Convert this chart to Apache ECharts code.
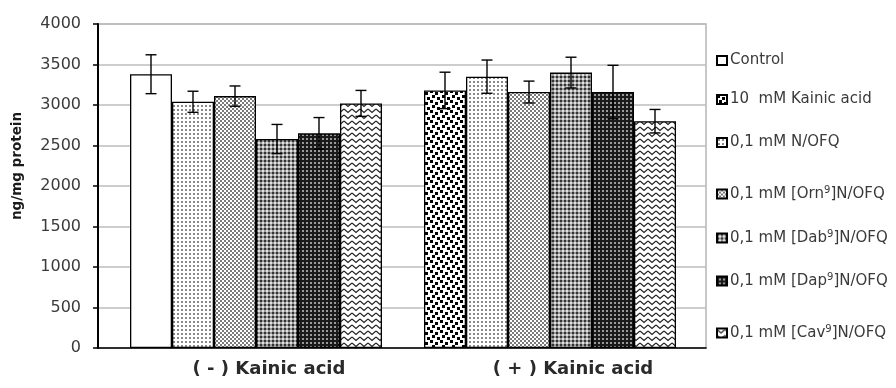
<!DOCTYPE html>
<html>
<head>
<meta charset="utf-8">
<script src="https://cdn.jsdelivr.net/npm/echarts@6/dist/echarts.min.js"></script>
<style>
  html, body { margin: 0; padding: 0; background: #fff; }
  #chart { width: 896px; height: 388px; }
</style>
</head>
<body>
<div id="chart"></div>
<script>
// ---- data ----
const categories = ['( - ) Kainic acid', '( + ) Kainic acid'];
const yTicks = { min: 0, max: 4000, step: 500 };

const seriesNames = [
  'Control',
  '10  mM Kainic acid',
  '0,1 mM N/OFQ',
  '0,1 mM [Orn9]N/OFQ',
  '0,1 mM [Dab9]N/OFQ',
  '0,1 mM [Dap9]N/OFQ',
  '0,1 mM [Cav9]N/OFQ'
];
const legendLabels = [
  'Control',
  '10  mM Kainic acid',
  '0,1 mM N/OFQ',
  '0,1 mM [Orn{sup|9}]N/OFQ',
  '0,1 mM [Dab{sup|9}]N/OFQ',
  '0,1 mM [Dap{sup|9}]N/OFQ',
  '0,1 mM [Cav{sup|9}]N/OFQ'
];

const controlVals = [3380, null];
const kainicVals  = [null, 3180];
const nofqVals    = [3040, 3350];
const ornVals     = [3110, 3160];
const dabVals     = [2580, 3400];
const dapVals     = [2650, 3160];
const cavVals     = [3020, 2800];

const controlErr = [240, null];
const kainicErr  = [null, 225];
const nofqErr    = [130, 205];
const ornErr     = [125, 135];
const dabErr     = [180, 190];
const dapErr     = [195, 330];
const cavErr     = [160, 145];

// ---- layout / style constants ----
const BAR_W = 42;
const SLOTS = 6;
const LEGEND_CENTERS = [62, 101, 144, 194, 238, 281, 333];

function makePattern(w, h, draw) {
  const c = document.createElement('canvas');
  c.width = w; c.height = h;
  const ctx = c.getContext('2d');
  ctx.fillStyle = '#fff';
  ctx.fillRect(0, 0, w, h);
  draw(ctx);
  return { image: c, repeat: 'repeat' };
}

const fills = [
  '#ffffff',
  makePattern(10, 10, ctx => {
    ctx.fillStyle = '#000';
    [[0, 0], [5, 2], [2, 5], [7, 7]].forEach(p => ctx.fillRect(p[0], p[1], 3, 3));
  }),
  makePattern(4, 4, ctx => {
    ctx.fillStyle = '#8a8a8a';
    ctx.fillRect(1, 1, 2, 2);
  }),
  makePattern(4, 4, ctx => {
    ctx.fillStyle = '#7a7a7a';
    ctx.fillRect(0, 0, 2, 2);
    ctx.fillRect(2, 2, 2, 2);
  }),
  makePattern(4, 4, ctx => {
    ctx.fillStyle = '#9a9a9a'; ctx.fillRect(0, 0, 4, 4);
    ctx.fillStyle = '#333'; ctx.fillRect(0, 0, 2, 2);
    ctx.fillStyle = '#e0e0e0'; ctx.fillRect(2, 2, 2, 2);
  }),
  makePattern(4, 4, ctx => {
    ctx.fillStyle = '#1a1a1a'; ctx.fillRect(0, 0, 4, 4);
    ctx.fillStyle = '#9a9a9a'; ctx.fillRect(2, 2, 2, 2);
  }),
  makePattern(8, 6, ctx => {
    ctx.strokeStyle = '#222';
    ctx.lineWidth = 1.2;
    ctx.beginPath();
    ctx.moveTo(0, 1); ctx.lineTo(4, 4.5); ctx.lineTo(8, 1);
    ctx.stroke();
  })
];

const valueSets = [controlVals, kainicVals, nofqVals, ornVals, dabVals, dapVals, cavVals];
const errSets   = [controlErr, kainicErr, nofqErr, ornErr, dabErr, dapErr, cavErr];
const slotOf    = [0, 0, 1, 2, 3, 4, 5];

const barSeries = seriesNames.map((name, i) => ({
  name: name,
  type: 'bar',
  xAxisIndex: 1,
  yAxisIndex: 1,
  stack: slotOf[i] === 0 ? 'first' : 's' + i,
  barWidth: BAR_W,
  barGap: 0,
  data: valueSets[i].map(v => (v == null ? '-' : v)),
  itemStyle: { color: fills[i], borderColor: '#000', borderWidth: 1.3 },
  silent: true
}));

// error bar items: [category index, value, error, slot]
const errItems = [];
valueSets.forEach((vals, i) => {
  vals.forEach((v, c) => {
    if (v != null) errItems.push([c, v, errSets[i][c], slotOf[i]]);
  });
});

const errSeries = {
  type: 'custom',
  xAxisIndex: 1,
  yAxisIndex: 1,
  z: 10,
  silent: true,
  data: errItems,
  renderItem: function (params, api) {
    const c = api.value(0), v = api.value(1), e = api.value(2), s = api.value(3);
    const top = api.coord([c, v + e]);
    const bot = api.coord([c, v - e]);
    const x = top[0] + (s - (SLOTS - 1) / 2) * BAR_W;
    const cap = 5.5;
    const st = { stroke: '#000', lineWidth: 1.4 };
    return {
      type: 'group',
      children: [
        { type: 'line', shape: { x1: x, y1: top[1], x2: x, y2: bot[1] }, style: st },
        { type: 'line', shape: { x1: x - cap, y1: top[1], x2: x + cap, y2: top[1] }, style: st },
        { type: 'line', shape: { x1: x - cap, y1: bot[1], x2: x + cap, y2: bot[1] }, style: st }
      ]
    };
  }
};

const legends = seriesNames.map((name, i) => ({
  data: [name],
  left: 716,
  top: LEGEND_CENTERS[i] - 9,
  padding: 0,
  itemWidth: 10,
  itemHeight: 9,
  icon: 'rect',
  selectedMode: false,
  formatter: () => legendLabels[i],
  textStyle: {
    fontFamily: 'DejaVu Sans',
    fontSize: 15,
    color: '#3a3a3a',
    padding: [0, 0, 0, -2],
    rich: { sup: { fontSize: 10, fontFamily: 'DejaVu Sans', color: '#3a3a3a', padding: [0, 0, 8, 0] } }
  }
}));

const chart = echarts.init(document.getElementById('chart'), null, { renderer: 'canvas' });
chart.setOption({
  animation: false,
  backgroundColor: '#fff',
  grid: [
    { left: 98, right: 190, top: 24, bottom: 40, show: true, borderColor: '#b5b5b5', borderWidth: 1.5 },
    { left: 109, right: 199, top: 24, bottom: 40 }
  ],
  xAxis: [
    {
      type: 'category', gridIndex: 0, data: categories,
      axisLine: { lineStyle: { color: '#000', width: 1.6 } },
      axisTick: { show: false },
      axisLabel: {
        fontFamily: 'DejaVu Sans', fontSize: 18, fontWeight: 'bold', color: '#2a2a2a',
        margin: 12, padding: [0, 0, 0, 38]
      }
    },
    { type: 'category', gridIndex: 1, data: categories, show: false }
  ],
  yAxis: [
    {
      type: 'value', gridIndex: 0, min: yTicks.min, max: yTicks.max, interval: yTicks.step,
      axisLine: { show: true, lineStyle: { color: '#000', width: 2 } },
      axisTick: { show: true, length: 5, lineStyle: { color: '#000', width: 1.5 } },
      axisLabel: {
        fontFamily: 'DejaVu Sans', fontSize: 16, color: '#3a3a3a', margin: 17,
        formatter: v => String(v)
      },
      splitLine: { lineStyle: { color: '#bdbdbd', width: 1.5 } }
    },
    { type: 'value', gridIndex: 1, min: yTicks.min, max: yTicks.max, interval: yTicks.step, show: false, splitLine: { show: false } }
  ],
  legend: legends,
  graphic: [
    {
      type: 'text', x: 17, y: 166, rotation: Math.PI / 2,
      style: { text: 'ng/mg protein', font: 'bold 13.5px "DejaVu Sans"', fill: '#1a1a1a', align: 'center', verticalAlign: 'middle' }
    }
  ],
  series: barSeries.concat([errSeries])
});
</script>
</body>
</html>
